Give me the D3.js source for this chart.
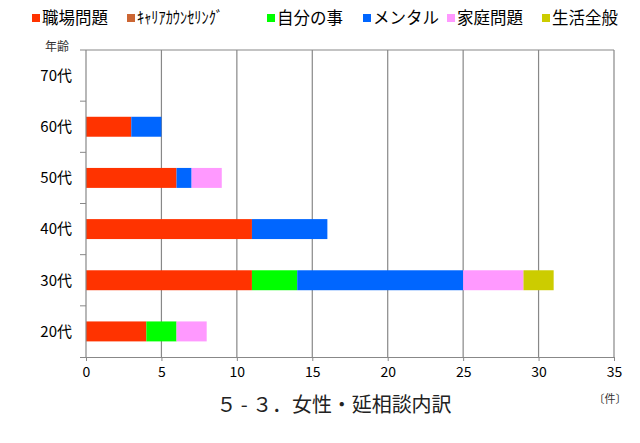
<!DOCTYPE html>
<html><head><meta charset="utf-8">
<script src="https://cdn.jsdelivr.net/npm/d3@7"></script>
<style>body{margin:0;background:#fff}svg{display:block}text{font-family:"Noto Sans CJK JP","Noto Sans",sans-serif}</style>
</head><body><svg id="c" width="640" height="443"></svg>
<script>
const categories = ["70代","60代","50代","40代","30代","20代"];
const seriesNames = ["職場問題","ｷｬﾘｱｶｳﾝｾﾘﾝｸﾞ","自分の事","メンタル","家庭問題","生活全般"];
const seriesColors = ["#FF3300","#CC6633","#00FF00","#0066FF","#FF99FF","#CCCC00"];
const shokuba  = [0,3,6,11,11,4];
const career   = [0,0,0,0,0,0];
const jibun    = [0,0,0,0,3,2];
const mental   = [0,2,1,5,11,0];
const katei    = [0,0,2,0,4,2];
const seikatsu = [0,0,0,0,2,0];
const xTicks = [0,5,10,15,20,25,30,35];

const series = [shokuba,career,jibun,mental,katei,seikatsu];
const table = categories.map((c,i)=>{const o={cat:c};seriesNames.forEach((s,j)=>o[s]=series[j][i]);return o;});
const stack = d3.stack().keys(seriesNames)(table);

const svg = d3.select("#c");
const L=86,R=614,T=50,B=357;
const x = d3.scaleLinear().domain([0,35]).range([L,R]);
const y = d3.scaleBand().domain(categories).range([T,B]).paddingInner(0.61).paddingOuter(0.305);

// gridlines
svg.append("g").selectAll("line").data(xTicks.slice(1)).join("line")
  .attr("x1",d=>x(d)).attr("x2",d=>x(d)).attr("y1",T).attr("y2",B)
  .attr("stroke","#888").attr("stroke-width",1.2);
// top border
svg.append("line").attr("x1",80).attr("x2",R).attr("y1",T).attr("y2",T).attr("stroke","#888").attr("stroke-width",1.2);

// bars
svg.append("g").selectAll("g").data(stack).join("g")
  .attr("fill",(d,i)=>seriesColors[i])
  .selectAll("rect").data(d=>d).join("rect")
  .attr("x",d=>x(d[0])).attr("width",d=>x(d[1])-x(d[0]))
  .attr("y",d=>y(d.data.cat)).attr("height",y.bandwidth());

// x axis
const xa = svg.append("g").attr("transform",`translate(0,${B})`)
  .call(d3.axisBottom(x).tickValues(xTicks).tickSize(4).tickPadding(6).tickSizeOuter(0));
xa.select(".domain").attr("stroke","#888").attr("d",`M80,0.5H${R}`);
xa.selectAll(".tick line").attr("stroke","#888");
xa.selectAll("text").attr("font-size",14).attr("fill","#000");

// y axis
svg.append("line").attr("x1",L).attr("x2",L).attr("y1",T).attr("y2",B).attr("stroke","#888").attr("stroke-width",1.2);
const step = y.step();
svg.append("g").selectAll("line").data(categories.slice(1)).join("line")
  .attr("x1",80).attr("x2",L).attr("y1",d=>y(d)-step*0.305).attr("y2",d=>y(d)-step*0.305)
  .attr("stroke","#888");
svg.append("g").selectAll("text").data(categories).join("text")
  .attr("x",72).attr("y",d=>y(d)+y.bandwidth()/2).attr("dy","0.36em")
  .attr("text-anchor","end").attr("font-size",15).text(d=>d);

svg.append("text").attr("x",57).attr("y",51).attr("text-anchor","middle").attr("font-size",12).attr("fill","#333").text("年齢");

// legend
const legX = [32,127,267,363,447,542];
const lg = svg.append("g").selectAll("g").data(seriesNames).join("g")
  .attr("transform",(d,i)=>`translate(${legX[i]},18)`);
lg.append("rect").attr("x",0).attr("y",-4).attr("width",8).attr("height",8).attr("fill",(d,i)=>seriesColors[i]);
lg.append("text").attr("x",10).attr("y",0).attr("dy","0.36em").attr("font-size",16.5)
  .attr("textLength",(d,i)=>i==1?86:null).attr("lengthAdjust","spacingAndGlyphs").text(d=>d);

// title
svg.append("text").attr("x",334).attr("y",412).attr("text-anchor","middle").attr("font-size",20)
  .attr("textLength",235).attr("lengthAdjust","spacing").attr("fill","#222").text("５ - ３．女性・延相談内訳");
svg.append("text").attr("x",610).attr("y",403).attr("text-anchor","middle").attr("font-size",11).attr("fill","#333").text("〔件〕");
</script></body></html>
